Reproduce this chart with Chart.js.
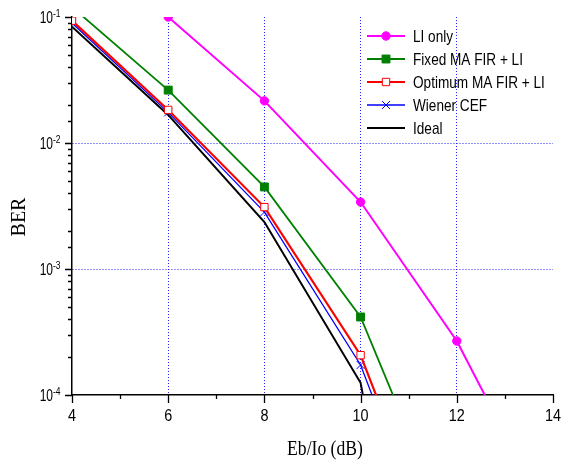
<!DOCTYPE html>
<html>
<head>
<meta charset="utf-8">
<script src="https://cdn.jsdelivr.net/npm/chart.js@4.4.1/dist/chart.umd.min.js"></script>
<style>
  html, body { margin: 0; padding: 0; background: #fff; }
  #wrap { width: 561px; height: 464px; }
</style>
</head>
<body>
<div id="wrap"><canvas id="ber" width="561" height="464"></canvas></div>
<script>
// Eb/Io (dB) sample points
const ebIo = [4, 6, 8, 10, 12, 14];

// BER per curve (off-scale values only steer the clipped line ends)
const liOnly    = [null, 0.1, 0.0216, 0.0034, 2.68e-4, 9e-6];
const fixedMA   = [0.12, 0.0263, 0.00448, 4.16e-4, 6e-6, null];
const optimumMA = [0.0935, 0.0183, 0.0031, 2.07e-4, 2.2e-6, null];
const wiener    = [0.0896, 0.0175, 0.00283, 1.73e-4, 1.7e-6, null];
const ideal     = [0.0837, 0.0167, 0.00236, 1.25e-4, 1e-8, null];

const seriesNames = ['LI only', 'Fixed MA FIR + LI', 'Optimum MA FIR + LI', 'Wiener CEF', 'Ideal'];

// tick labels
const xTickValues = [4, 6, 8, 10, 12, 14];
const yTickExponents = [-1, -2, -3, -4];

const gridBlue = '#1f1fff';

function toPoints(arr) {
    return ebIo.map((x, i) => ({ x: x, y: arr[i] }));
}

function isDecade(v) {
    const l = Math.log10(v);
    return Math.abs(l - Math.round(l)) < 1e-6;
}

function drawCondensed(ctx, text, x, y, sx, align) {
    ctx.save();
    ctx.translate(x, y);
    ctx.scale(sx, 1);
    ctx.textAlign = align;
    ctx.fillText(text, 0, 0);
    ctx.restore();
}

const decorations = {
    id: 'decorations',
    afterDraw(chart) {
        const { ctx, chartArea, scales: { x, y } } = chart;
        ctx.save();

        // tick marks
        ctx.strokeStyle = '#000';
        ctx.lineWidth = 1.3;
        ctx.beginPath();
        x.ticks.forEach(t => {
            const px = Math.round(x.getPixelForValue(t.value)) + 0.5;
            const len = t.value % 2 === 0 ? 8 : 4;
            ctx.moveTo(px, chartArea.bottom);
            ctx.lineTo(px, chartArea.bottom + len);
        });
        y.ticks.forEach(t => {
            const py = Math.round(y.getPixelForValue(t.value)) + 0.5;
            const len = isDecade(t.value) ? 7 : 4;
            ctx.moveTo(chartArea.left - len, py);
            ctx.lineTo(chartArea.left, py);
        });
        ctx.stroke();

        // x tick labels
        ctx.fillStyle = '#000';
        ctx.textBaseline = 'middle';
        ctx.font = '16px "Liberation Sans", Arial, sans-serif';
        xTickValues.forEach(v => {
            drawCondensed(ctx, String(v), x.getPixelForValue(v), chartArea.bottom + 22, 0.9, 'center');
        });

        // y tick labels 10^n
        yTickExponents.forEach(e => {
            const py = y.getPixelForValue(Math.pow(10, e));
            ctx.font = '16px "Liberation Sans", Arial, sans-serif';
            drawCondensed(ctx, '10', chartArea.left - 19, py + 2, 0.75, 'right');
            ctx.font = '10px "Liberation Sans", Arial, sans-serif';
            drawCondensed(ctx, String(e), chartArea.left - 19, py - 3, 0.85, 'left');
        });

        // axis titles
        ctx.font = '20px "Liberation Serif", "Times New Roman", serif';
        drawCondensed(ctx, 'Eb/Io (dB)', 325, 450, 0.88, 'center');
        ctx.save();
        ctx.translate(20, 217);
        ctx.rotate(-Math.PI / 2);
        ctx.textAlign = 'center';
        ctx.fillText('BER', 0, 0);
        ctx.restore();

        // legend
        ctx.font = '17px "Liberation Sans", Arial, sans-serif';
        chart.data.datasets.forEach((ds, row) => {
            const ly = 36 + row * 23;
            ctx.save();
            ctx.strokeStyle = ds.borderColor;
            ctx.lineWidth = ds.borderWidth;
            ctx.beginPath();
            ctx.moveTo(367, ly);
            ctx.lineTo(405, ly);
            ctx.stroke();
            ctx.fillStyle = ds.pointBackgroundColor;
            ctx.strokeStyle = ds.pointBorderColor;
            ctx.lineWidth = ds.pointBorderWidth;
            Chart.helpers.drawPoint(ctx, {
                pointStyle: ds.pointStyle,
                radius: ds.pointRadius,
                rotation: 0,
                borderWidth: ds.pointBorderWidth
            }, 386, ly);
            ctx.restore();
            ctx.fillStyle = '#000';
            drawCondensed(ctx, ds.label, 413, ly + 1, 0.8, 'left');
        });

        ctx.restore();
    }
};

new Chart(document.getElementById('ber'), {
    type: 'line',
    data: {
        datasets: [
            {
                label: seriesNames[0],
                data: toPoints(liOnly),
                borderColor: '#ff00ff',
                borderWidth: 2,
                pointStyle: 'circle',
                pointRadius: 4.2,
                pointBackgroundColor: '#ff00ff',
                pointBorderColor: '#ff00ff',
                pointBorderWidth: 1,
                order: 1
            },
            {
                label: seriesNames[1],
                data: toPoints(fixedMA),
                borderColor: '#008000',
                borderWidth: 1.8,
                pointStyle: 'rect',
                pointRadius: 5.6,
                pointBackgroundColor: '#008000',
                pointBorderColor: '#008000',
                pointBorderWidth: 1,
                order: 2
            },
            {
                label: seriesNames[2],
                data: toPoints(optimumMA),
                borderColor: '#ff0000',
                borderWidth: 2.2,
                pointStyle: 'rect',
                pointRadius: 5.2,
                pointBackgroundColor: '#ffffff',
                pointBorderColor: '#ff0000',
                pointBorderWidth: 1,
                order: 3
            },
            {
                label: seriesNames[3],
                data: toPoints(wiener),
                borderColor: '#0000ff',
                borderWidth: 1.3,
                pointStyle: 'crossRot',
                pointRadius: 5.6,
                pointBackgroundColor: '#0000ff',
                pointBorderColor: '#0000ff',
                pointBorderWidth: 1,
                order: 4
            },
            {
                label: seriesNames[4],
                data: toPoints(ideal),
                borderColor: '#000000',
                borderWidth: 2,
                pointStyle: false,
                pointRadius: 0,
                pointBackgroundColor: '#000000',
                pointBorderColor: '#000000',
                pointBorderWidth: 1,
                order: 5
            }
        ]
    },
    options: {
        responsive: false,
        devicePixelRatio: 1,
        animation: false,
        events: [],
        layout: { padding: { top: 17, right: 8, left: 0, bottom: 0 } },
        elements: { line: { tension: 0 } },
        plugins: {
            legend: { display: false },
            tooltip: { enabled: false }
        },
        scales: {
            x: {
                type: 'linear',
                min: 4,
                max: 14,
                afterFit: function (scale) { scale.height = 69; },
                ticks: {
                    stepSize: 1,
                    autoSkip: false,
                    callback: function () { return ''; }
                },
                grid: {
                    drawTicks: false,
                    lineWidth: 1,
                    color: function (c) {
                        const v = c.tick && c.tick.value;
                        return (v > 4 && v < 14 && v % 2 === 0) ? gridBlue : 'rgba(0,0,0,0)';
                    }
                },
                border: { display: true, color: '#000', width: 1.5, dash: [1, 2] }
            },
            y: {
                type: 'logarithmic',
                min: 1e-4,
                max: 1e-1,
                afterFit: function (scale) { scale.width = 72; },
                ticks: {
                    autoSkip: false,
                    callback: function () { return ''; }
                },
                grid: {
                    drawTicks: false,
                    lineWidth: 1,
                    color: function (c) {
                        const v = c.tick && c.tick.value;
                        if (!v || !isDecade(v)) return 'rgba(0,0,0,0)';
                        const e = Math.round(Math.log10(v));
                        return (e === -2 || e === -3) ? gridBlue : 'rgba(0,0,0,0)';
                    }
                },
                border: { display: true, color: '#000', width: 1.5, dash: [1, 2] }
            }
        }
    },
    plugins: [decorations]
});
</script>
</body>
</html>
